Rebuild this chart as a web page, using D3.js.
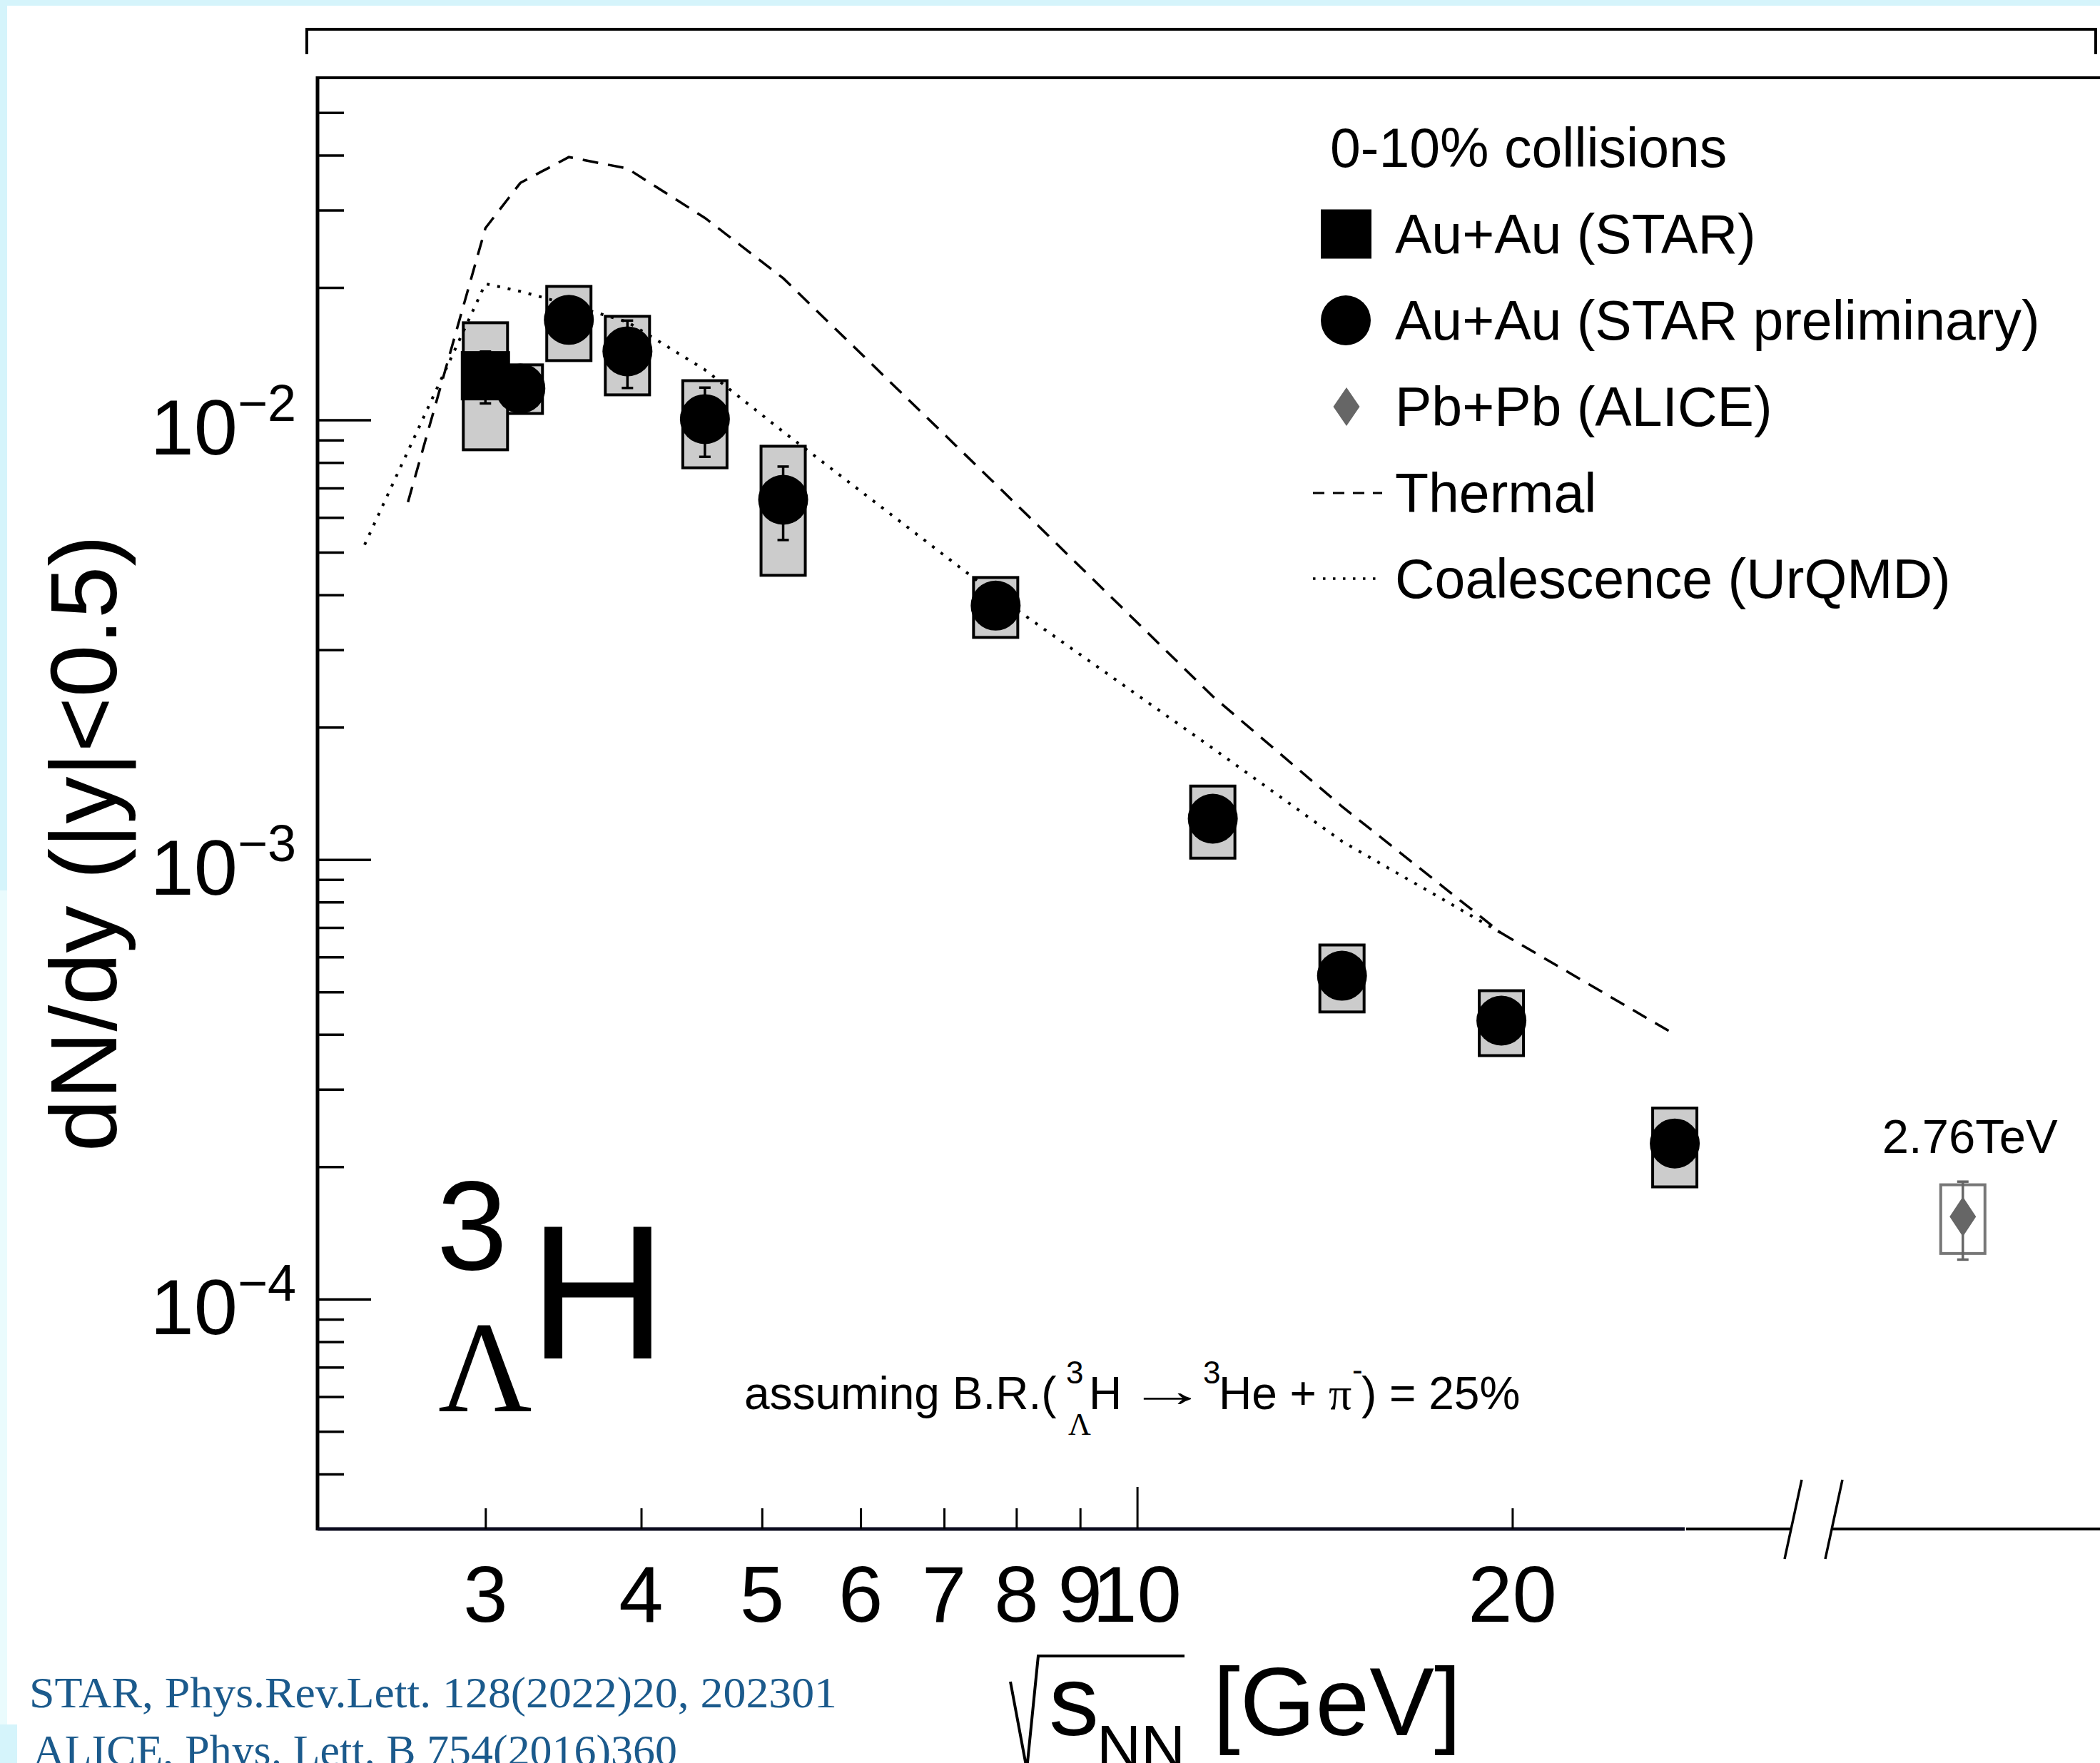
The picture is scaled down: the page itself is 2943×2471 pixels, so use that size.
<!DOCTYPE html>
<html><head><meta charset="utf-8">
<script src="https://cdn.jsdelivr.net/npm/d3@7"></script>
<style>
html,body{margin:0;padding:0;background:#d5f4fb;overflow:hidden;}
svg{display:block;}
text{font-family:"Liberation Sans",Arial,Helvetica,sans-serif;fill:#000;}
</style></head><body>
<svg id="chart" width="2943" height="2471"></svg>
<script>
// ---------------- data ----------------
// Au+Au (STAR) published
const starEnergy = [3.0];
const starValue  = [0.0126];
const starStat   = [0.0017];
const starSysLo  = [0.00855];
const starSysHi  = [0.01663];

// Au+Au (STAR preliminary)
const prelimEnergy = [3.2, 3.5, 3.9, 4.5, 5.2, 7.7, 11.5, 14.6, 19.6, 27];
const prelimValue  = [0.01179, 0.01688, 0.01432, 0.01004, 0.00658, 0.00378, 0.001238, 0.000544, 0.000430, 0.000226];
const prelimStat   = [0.0006, 0.0008, 0.0025, 0.0018, 0.00125, 0.0002, 0.00007, 0.00003, 0.00002, 0.00001];
const prelimSysLo  = [0.01034, 0.01364, 0.0114, 0.00778, 0.00443, 0.0032, 0.001007, 0.00045, 0.000358, 0.00018];
const prelimSysHi  = [0.01334, 0.02012, 0.0172, 0.01228, 0.00871, 0.00438, 0.001469, 0.000639, 0.000503, 0.000272];

// Pb+Pb (ALICE) 2.76 TeV
const aliceEnergy = [2760];
const aliceValue  = [0.000154];
const aliceStat   = [0.000031];
const aliceSysLo  = [0.000127];
const aliceSysHi  = [0.000182];

// Thermal model
const thermalEnergy = [2.6, 3.0, 3.2, 3.5, 3.9, 4.5, 5.2, 7.7, 11.5, 14.6, 19.6, 27];
const thermalValue  = [0.0065, 0.0273, 0.0346, 0.0396, 0.0373, 0.0288, 0.0210, 0.00714, 0.00235, 0.00132, 0.00068, 0.0004];

// Coalescence (UrQMD)
const coalEnergy = [2.4, 3.0, 3.2, 3.5, 3.9, 4.5, 5.2, 7.7, 11.5, 14.6, 19.6];
const coalValue  = [0.0052, 0.0204, 0.0196, 0.0183, 0.0167, 0.0130, 0.0094, 0.0040, 0.00179, 0.0011, 0.00068];

// axis ticks
const xMinorTicks = [3, 4, 5, 6, 7, 8, 9, 20];
const xMajorTicks = [10];
const xTickLabels = [3, 4, 5, 6, 7, 8, 9, 10, 20];
const yMajorTicks = [1e-4, 1e-3, 1e-2];
const yMajorExp   = ["−4", "−3", "−2"];

const legendTitle = "0-10% collisions";
const legendLabels = ["Au+Au (STAR)", "Au+Au (STAR preliminary)", "Pb+Pb (ALICE)", "Thermal", "Coalescence (UrQMD)"];

// ---------------- layout ----------------
const svg = d3.select("#chart");
const L = 445, T = 109, B = 2143, Rlog = 2361;

// background panels
svg.append("rect").attr("x",10).attr("y",8).attr("width",2933).attr("height",2409).attr("fill","#fff");
svg.append("rect").attr("x",24).attr("y",2417).attr("width",2919).attr("height",60).attr("fill","#fff");
svg.append("rect").attr("x",0).attr("y",1248).attr("width",10).attr("height",1169).attr("fill","#eafbfd");

const x = d3.scaleLog().domain([2.2, 27.5]).range([L, Rlog]);
const xb = d3.scaleLinear().domain([2300, 3300]).range([2570, 2963]);
const y = d3.scaleLog().domain([3.0e-5, 0.06]).range([B, T]);

// minor y ticks
const yMinor = [];
for (let e = -5; e <= -2; e++) for (let m = 2; m <= 9; m++) {
  const v = m * Math.pow(10, e);
  if (v > 3.05e-5 && v < 0.059) yMinor.push(v);
}

// top bracket
svg.append("path").attr("d", `M430,76 V41 H2937 V76`).attr("fill","none").attr("stroke","#000").attr("stroke-width",4);

// frame
svg.append("line").attr("x1",L).attr("x2",2943).attr("y1",T).attr("y2",T).attr("stroke","#000").attr("stroke-width",4);
svg.append("line").attr("x1",L).attr("x2",L).attr("y1",T-2).attr("y2",B+2).attr("stroke","#000").attr("stroke-width",5);
svg.append("line").attr("x1",L).attr("x2",Rlog).attr("y1",B).attr("y2",B).attr("stroke","#0b0b1e").attr("stroke-width",5);
svg.append("line").attr("x1",Rlog+2).attr("x2",2510).attr("y1",B).attr("y2",B).attr("stroke","#000").attr("stroke-width",4);
svg.append("line").attr("x1",2568).attr("x2",2943).attr("y1",B).attr("y2",B).attr("stroke","#000").attr("stroke-width",4);
// axis break marks
svg.append("line").attr("x1",2501).attr("y1",2185).attr("x2",2525).attr("y2",2074).attr("stroke","#000").attr("stroke-width",3.5);
svg.append("line").attr("x1",2558).attr("y1",2185).attr("x2",2582).attr("y2",2074).attr("stroke","#000").attr("stroke-width",3.5);

// y axis ticks (inside)
const yMinG = svg.append("g").attr("transform",`translate(${L},0)`)
  .call(d3.axisRight(y).tickValues(yMinor).tickSize(37).tickFormat(""));
const yMajG = svg.append("g").attr("transform",`translate(${L},0)`)
  .call(d3.axisRight(y).tickValues(yMajorTicks).tickSize(75).tickFormat(""));
[yMinG, yMajG].forEach(g => { g.select(".domain").remove(); g.selectAll("line").attr("stroke","#000").attr("stroke-width",3.5); });

// x axis ticks (inside)
const xMinG = svg.append("g").attr("transform",`translate(0,${B})`)
  .call(d3.axisTop(x).tickValues(xMinorTicks).tickSize(29).tickFormat(""));
const xMajG = svg.append("g").attr("transform",`translate(0,${B})`)
  .call(d3.axisTop(x).tickValues(xMajorTicks).tickSize(59).tickFormat(""));
[xMinG, xMajG].forEach(g => { g.select(".domain").remove(); g.selectAll("line").attr("stroke","#000").attr("stroke-width",3); });

// x tick labels
svg.append("g").selectAll("text").data(xTickLabels).join("text")
  .attr("x", d => x(d)).attr("y", 2273).attr("text-anchor","middle")
  .attr("font-size", 112).text(d => d);

// y tick labels
yMajorTicks.forEach((v, i) => {
  const t = svg.append("text").attr("x", 415).attr("y", y(v) + 49).attr("text-anchor","end").attr("font-size",110);
  t.append("tspan").text("10");
  t.append("tspan").attr("font-size",72).attr("dy",-47).text(yMajorExp[i]);
});

// y axis title
svg.append("text").attr("transform","translate(163,1182) rotate(-90)")
  .attr("text-anchor","middle").attr("font-size",132).text("dN/dy (|y|<0.5)");

// x axis title
svg.append("path").attr("d","M1416,2357 L1439,2480 L1455,2321 L1660,2321")
  .attr("fill","none").attr("stroke","#000").attr("stroke-width",4);
svg.append("text").attr("x",1470).attr("y",2432).attr("font-size",140).text("s");
svg.append("text").attr("x",1537).attr("y",2478).attr("font-size",86).text("NN");
svg.append("text").attr("x",1700).attr("y",2432).attr("font-size",136).text("[GeV]");

// ---------------- marks ----------------
const boxW = 31;
function sysBox(g, xs, lo, hi, stroke, fill) {
  g.selectAll(null).data(xs).join("rect")
    .attr("x", (d) => d.x - boxW).attr("width", 2*boxW)
    .attr("y", (d,i) => y(hi[i])).attr("height", (d,i) => y(lo[i]) - y(hi[i]))
    .attr("fill", fill).attr("stroke", stroke).attr("stroke-width", 4);
}
const gBox = svg.append("g");
sysBox(gBox, prelimEnergy.map(e => ({x: x(e)})), prelimSysLo, prelimSysHi, "#000", "#cccccc");
sysBox(gBox, starEnergy.map(e => ({x: x(e)})), starSysLo, starSysHi, "#000", "#cccccc");
sysBox(gBox, aliceEnergy.map(e => ({x: xb(e)})), aliceSysLo, aliceSysHi, "#777", "none");

// theory curves
const line = d3.line().x(d => x(d[0])).y(d => y(d[1]));
svg.append("path").datum(thermalEnergy.map((e,i) => [e, thermalValue[i]]))
  .attr("d", line).attr("fill","none").attr("stroke","#000").attr("stroke-width",3.5)
  .attr("stroke-dasharray","22,14");
svg.append("path").datum(coalEnergy.map((e,i) => [e, coalValue[i]]))
  .attr("d", line).attr("fill","none").attr("stroke","#000").attr("stroke-width",4)
  .attr("stroke-dasharray","4,11");

// stat error bars
function errBars(xs, vals, errs, color) {
  const g = svg.append("g").attr("stroke", color).attr("stroke-width", 3.5);
  xs.forEach((xx, i) => {
    const y1 = y(vals[i] + errs[i]), y2 = y(vals[i] - errs[i]);
    g.append("line").attr("x1",xx).attr("x2",xx).attr("y1",y1).attr("y2",y2);
    g.append("line").attr("x1",xx-8).attr("x2",xx+8).attr("y1",y1).attr("y2",y1);
    g.append("line").attr("x1",xx-8).attr("x2",xx+8).attr("y1",y2).attr("y2",y2);
  });
}
errBars(prelimEnergy.map(e => x(e)), prelimValue, prelimStat, "#000");
errBars(starEnergy.map(e => x(e)), starValue, starStat, "#000");
errBars(aliceEnergy.map(e => xb(e)), aliceValue, aliceStat, "#666");

// markers
svg.append("g").selectAll("rect").data(starEnergy).join("rect")
  .attr("x", d => x(d) - 34.5).attr("y", (d,i) => y(starValue[i]) - 34.5)
  .attr("width", 69).attr("height", 69).attr("fill","#000");
svg.append("g").selectAll("circle").data(prelimEnergy).join("circle")
  .attr("cx", d => x(d)).attr("cy", (d,i) => y(prelimValue[i])).attr("r", 35).attr("fill","#000");
svg.append("g").selectAll("path").data(aliceEnergy).join("path")
  .attr("transform", (d,i) => `translate(${xb(d)},${y(aliceValue[i])})`)
  .attr("d","M0,-28 L18.5,0 L0,28 L-18.5,0 Z").attr("fill","#666");
svg.append("text").attr("x", xb(aliceEnergy[0]) + 10).attr("y", 1616).attr("text-anchor","middle")
  .attr("font-size",67).text("2.76TeV");

// ---------------- legend ----------------
svg.append("text").attr("x",1864).attr("y",234).attr("font-size",77).text(legendTitle);
const legY = [328, 449, 570, 691, 811];
svg.append("rect").attr("x",1851).attr("y",legY[0]-34.5).attr("width",71).attr("height",69).attr("fill","#000");
svg.append("circle").attr("cx",1886).attr("cy",legY[1]).attr("r",35).attr("fill","#000");
svg.append("path").attr("transform",`translate(1887,${legY[2]})`).attr("d","M0,-27 L18.5,0 L0,27 L-18.5,0 Z").attr("fill","#666");
svg.append("line").attr("x1",1840).attr("x2",1937).attr("y1",legY[3]).attr("y2",legY[3])
  .attr("stroke","#000").attr("stroke-width",3).attr("stroke-dasharray","16,12");
svg.append("line").attr("x1",1840).attr("x2",1937).attr("y1",legY[4]).attr("y2",legY[4])
  .attr("stroke","#000").attr("stroke-width",3.5).attr("stroke-dasharray","3.5,10.5");
legendLabels.forEach((s, i) => {
  svg.append("text").attr("x",1955).attr("y",legY[i] + 27).attr("font-size",77).text(s);
});

// ---------------- hypertriton label ----------------
svg.append("text").attr("x",612).attr("y",1779).attr("font-size",178).text("3");
svg.append("text").attr("x",614).attr("y",1978).attr("font-size",182)
  .style("font-family","'Liberation Serif','Times New Roman',serif").text("Λ");
svg.append("text").attr("x",741).attr("y",1904).attr("font-size",268).text("H");

// branching ratio annotation
const brY = 1975, fs = 64;
svg.append("text").attr("x",1043).attr("y",brY).attr("font-size",fs).text("assuming B.R.(");
svg.append("text").attr("x",1494).attr("y",brY-36).attr("font-size",44).text("3");
svg.append("text").attr("x",1497).attr("y",brY+36).attr("font-size",44)
  .style("font-family","'Liberation Serif','Times New Roman',serif").text("Λ");
svg.append("text").attr("x",1526).attr("y",brY).attr("font-size",fs).text("H");
svg.append("text").attr("transform",`translate(1580,${brY-4}) scale(1.75,1)`).attr("font-size",fs).text("→");
svg.append("text").attr("x",1686).attr("y",brY-36).attr("font-size",44).text("3");
svg.append("text").attr("x",1708).attr("y",brY).attr("font-size",fs).text("He + ");
svg.append("text").attr("x",1862).attr("y",brY).attr("font-size",fs)
  .style("font-family","'Liberation Serif','Times New Roman',serif").text("π");
svg.append("text").attr("x",1895).attr("y",brY-40).attr("font-size",44).text("-");
svg.append("text").attr("x",1908).attr("y",brY).attr("font-size",fs).text(") = 25%");

// references
svg.append("text").attr("x",41).attr("y",2393).attr("font-size",61)
  .attr("textLength",1132).attr("lengthAdjust","spacingAndGlyphs")
  .style("font-family","'Liberation Serif','Times New Roman',serif").style("fill","#1b5a8c")
  .text("STAR, Phys.Rev.Lett. 128(2022)20, 202301");
svg.append("text").attr("x",46).attr("y",2474).attr("font-size",61)
  .attr("textLength",903).attr("lengthAdjust","spacingAndGlyphs")
  .style("font-family","'Liberation Serif','Times New Roman',serif").style("fill","#1b5a8c")
  .text("ALICE, Phys. Lett. B 754(2016)360");
</script>
</body></html>
